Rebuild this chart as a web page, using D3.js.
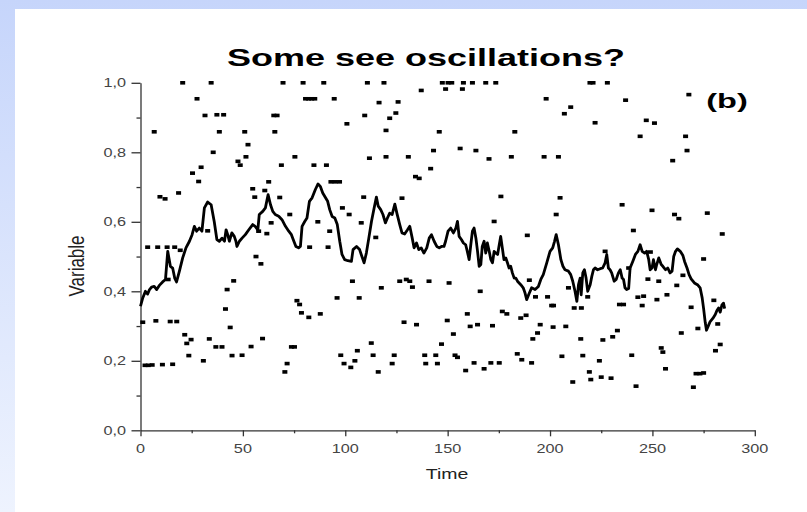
<!DOCTYPE html>
<html>
<head>
<meta charset="utf-8">
<script src="https://cdn.jsdelivr.net/npm/d3@7"></script>
<style>
body{margin:0;background:#fff}
svg{display:block}
text{font-family:"Liberation Sans",Arial,sans-serif}
</style>
</head>
<body>
<script>
// averaged curve
var lineTime = [0,1.1,2.4,3.5,4.4,5.4,6.7,7.9,9.2,10.8,12.2,13.3,14.6,15.7,16.7,17.6,19.0,20.6,22.2,23.9,25.2,26.3,27.4,28.7,30.0,31.2,32.8,34.5,36.0,37.3,38.5,39.8,41.0,41.8,42.6,43.4,44.6,45.8,46.6,47.1,48.3,49.6,51.2,52.9,54.8,56.0,57.3,58.0,59.7,61.0,62.3,63.5,64.6,65.8,67.5,69.1,70.8,72.4,73.7,74.9,75.9,77.2,78.1,78.9,80.2,81.3,82.5,83.8,85.4,86.7,87.8,89.0,90.3,91.4,92.4,93.6,94.9,96.1,97.3,98.4,99.7,101.3,103.0,103.8,105.5,107.0,107.8,109.2,110.3,111.5,112.8,114.1,115.2,116.1,117.3,118.4,119.6,120.6,121.7,122.9,124.2,125.2,126.6,127.7,129.0,130.4,131.5,132.7,133.6,134.8,135.9,137.1,138.4,139.8,141.0,142.1,143.4,144.7,145.9,147.0,148.2,149.0,150.2,151.5,152.8,154.0,154.8,155.6,156.7,157.7,158.8,159.6,160.5,161.3,162.1,162.9,163.8,164.6,165.4,166.2,166.9,167.8,168.6,169.4,170.3,171.1,171.9,172.7,173.5,174.4,175.2,175.9,176.7,177.5,178.4,179.2,180.0,180.8,181.6,182.5,183.3,184.1,185.7,186.9,187.8,188.6,189.9,191.0,192.7,194.3,195.5,196.7,198.4,200.0,201.3,202.2,203.0,204.1,205.3,206.3,207.3,209.0,210.1,211.1,212.2,213.1,213.9,214.7,215.2,216.0,216.8,217.6,218.4,219.6,220.4,221.2,222.0,223.2,224.5,225.7,226.9,227.7,228.5,229.3,230.1,231.3,232.3,233.4,234.3,235.2,235.9,236.6,237.4,238.4,239.1,240.4,241.7,242.9,244.0,245.0,246.2,247.2,248.2,248.9,249.8,250.5,251.5,252.1,253.1,254.3,255.1,256.4,257.5,258.6,259.6,260.4,261.3,262.2,263.6,264.9,265.7,266.9,267.9,268.9,270.5,272.2,273.3,274.3,275.0,275.8,276.4,277.4,278.2,279.5,280.7,281.5,282.3,283.1,283.9,284.7,285.3];
var lineValue = [0.357,0.381,0.400,0.392,0.405,0.412,0.414,0.405,0.417,0.427,0.434,0.515,0.472,0.467,0.438,0.427,0.458,0.496,0.525,0.544,0.563,0.587,0.573,0.582,0.573,0.640,0.657,0.649,0.601,0.549,0.544,0.553,0.544,0.577,0.563,0.544,0.568,0.558,0.544,0.529,0.544,0.553,0.563,0.577,0.592,0.587,0.577,0.621,0.630,0.640,0.678,0.649,0.630,0.621,0.616,0.606,0.587,0.573,0.563,0.544,0.529,0.525,0.529,0.587,0.601,0.611,0.659,0.669,0.693,0.709,0.702,0.683,0.670,0.659,0.635,0.615,0.611,0.592,0.544,0.506,0.491,0.488,0.486,0.520,0.529,0.520,0.506,0.482,0.510,0.553,0.601,0.640,0.671,0.645,0.635,0.621,0.597,0.611,0.625,0.621,0.651,0.625,0.592,0.568,0.565,0.577,0.587,0.553,0.525,0.539,0.520,0.525,0.510,0.525,0.553,0.563,0.544,0.529,0.525,0.529,0.529,0.544,0.573,0.582,0.568,0.582,0.601,0.558,0.549,0.539,0.534,0.515,0.491,0.534,0.573,0.582,0.553,0.515,0.472,0.477,0.529,0.544,0.510,0.539,0.515,0.491,0.482,0.515,0.510,0.506,0.534,0.558,0.525,0.491,0.496,0.482,0.467,0.472,0.453,0.438,0.438,0.429,0.419,0.410,0.395,0.376,0.395,0.410,0.405,0.414,0.434,0.448,0.482,0.515,0.525,0.544,0.563,0.534,0.491,0.472,0.462,0.458,0.448,0.429,0.400,0.371,0.419,0.438,0.390,0.453,0.462,0.438,0.400,0.419,0.443,0.462,0.467,0.462,0.465,0.467,0.482,0.506,0.467,0.462,0.453,0.429,0.434,0.453,0.462,0.438,0.434,0.410,0.405,0.408,0.467,0.486,0.506,0.515,0.534,0.515,0.510,0.515,0.491,0.462,0.467,0.491,0.462,0.477,0.496,0.477,0.472,0.462,0.467,0.453,0.458,0.500,0.515,0.522,0.515,0.503,0.486,0.467,0.448,0.436,0.424,0.418,0.410,0.381,0.350,0.310,0.288,0.302,0.313,0.322,0.333,0.345,0.352,0.340,0.360,0.366,0.350];

// individual values
var dotTime = [20.6,34.5,27.6,31.5,37.3,40.6,6.7,38.5,35.5,29.6,25.4,28.4,9.5,12.0,18.6,32.8,3.5,8.4,13.0,16.7,19.4,13.5,45.5,42.3,41.5,43.8,1.1,7.5,14.5,17.7,21.6,24.7,22.6,33.6,36.8,39.8,23.6,30.7,44.7,2.2,3.8,5.7,10.7,15.7,
  69.6,79.4,89.5,80.6,82.1,83.6,85.1,65.1,66.7,50.9,65.6,52.5,51.5,47.6,48.7,75.4,68.8,84.7,90.8,62.6,54.8,55.8,60.7,68.0,72.9,63.8,86.6,57.7,61.7,82.6,91.6,56.4,58.8,76.4,77.7,78.6,82.2,87.8,59.6,54.0,49.6,73.7,75.2,71.6,70.5,
  110.8,118.9,137.1,94.6,116.5,125.8,109.5,121.7,124.7,100.8,119.9,111.8,119.9,130.8,134.3,136.1,93.0,95.0,97.2,109.0,127.7,98.6,101.9,107.8,92.4,114.9,103.5,126.6,129.8,131.5,132.8,117.6,96.0,106.8,128.7,134.8,112.7,97.8,105.9,113.6,123.9,138.8,99.4,104.7,122.9,139.3,102.7,116.1,
  147.4,150.2,152.0,157.7,162.1,168.6,173.5,149.0,157.2,145.9,182.8,143.1,156.1,163.8,170.2,181.1,141.7,176.0,172.7,140.9,150.7,165.9,176.7,178.9,185.7,159.6,149.8,164.6,161.0,171.9,152.8,147.0,144.2,153.6,154.8,184.0,145.0,162.9,171.1,175.2,158.8,167.8,186.2,
  219.5,221.0,228.0,198.1,207.0,210.1,222.0,197.1,204.1,204.9,203.0,188.9,189.9,209.0,192.9,198.8,200.8,201.7,211.8,215.3,218.4,226.9,188.3,195.2,193.9,201.5,207.7,191.6,215.0,225.8,230.6,232.9,191.0,205.8,216.0,224.1,219.2,211.1,219.9,225.0,229.8,
  236.9,267.8,247.0,251.0,244.0,266.2,266.9,259.9,235.2,249.8,260.8,262.9,276.8,284.1,240.7,275.0,249.0,238.4,247.8,253.1,261.9,264.9,257.1,252.2,242.9,245.7,245.0,233.9,235.9,268.9,280.0,272.2,264.1,281.9,280.8,283.1,254.3,255.1,239.9,256.4,271.3,273.2,275.0,242.0,270.0];
var dotValue = [1.0,1.0,0.954,0.906,0.908,0.908,0.859,0.859,0.800,0.757,0.740,0.716,0.672,0.666,0.683,0.574,0.527,0.527,0.527,0.527,0.518,0.434,0.430,0.405,0.349,0.296,0.311,0.315,0.313,0.313,0.275,0.261,0.250,0.263,0.240,0.240,0.215,0.200,0.215,0.187,0.187,0.188,0.189,0.190,
  1.0,1.0,1.0,0.954,0.954,0.954,0.954,0.906,0.906,0.859,0.859,0.822,0.787,0.774,0.763,0.787,0.763,0.763,0.763,0.715,0.695,0.671,0.690,0.670,0.621,0.597,0.600,0.573,0.566,0.527,0.527,0.500,0.479,0.373,0.362,0.338,0.325,0.335,0.264,0.241,0.216,0.240,0.240,0.192,0.168,
  1.0,1.0,0.978,0.954,0.943,0.945,0.906,0.898,0.913,0.882,0.863,0.783,0.787,0.787,0.730,0.725,0.715,0.715,0.715,0.671,0.668,0.640,0.621,0.597,0.573,0.555,0.429,0.429,0.434,0.429,0.412,0.410,0.381,0.381,0.311,0.304,0.251,0.216,0.229,0.216,0.216,0.216,0.192,0.200,0.192,0.192,0.181,0.168,
  1.0,1.0,1.0,1.0,1.0,1.0,1.0,0.982,0.982,0.859,0.859,0.805,0.811,0.805,0.781,0.787,0.753,0.673,0.601,0.429,0.424,0.400,0.342,0.335,0.323,0.335,0.316,0.304,0.299,0.301,0.277,0.248,0.216,0.216,0.210,0.220,0.192,0.194,0.194,0.194,0.172,0.177,0.203,
  1.0,1.0,1.0,0.954,0.911,0.930,0.885,0.787,0.787,0.669,0.621,0.561,0.432,0.410,0.384,0.384,0.359,0.359,0.352,0.352,0.384,0.515,0.331,0.304,0.280,0.297,0.299,0.263,0.263,0.260,0.269,0.287,0.194,0.213,0.215,0.200,0.168,0.139,0.146,0.153,0.150,
  0.950,0.966,0.892,0.884,0.846,0.846,0.805,0.776,0.649,0.633,0.621,0.609,0.625,0.565,0.575,0.493,0.513,0.467,0.435,0.429,0.417,0.446,0.390,0.376,0.383,0.386,0.359,0.362,0.362,0.354,0.374,0.293,0.280,0.306,0.229,0.247,0.237,0.225,0.216,0.177,0.163,0.163,0.165,0.127,0.124];

var xTicks = [0,50,100,150,200,250,300];
var xMinor = [25,75,125,175,225,275];
var yTicks = [0,0.2,0.4,0.6,0.8,1.0];
var yMinor = [0.1,0.3,0.5,0.7,0.9];

var W = 807, H = 512;
var svg = d3.select("body").append("svg").attr("width", W).attr("height", H);

// slide background
var grad = svg.append("defs").append("linearGradient")
    .attr("id", "bg").attr("x1", 0).attr("y1", 0).attr("x2", 0).attr("y2", 1);
grad.append("stop").attr("offset", "0%").attr("stop-color", "#c6d5fb");
grad.append("stop").attr("offset", "100%").attr("stop-color", "#eef3fe");
svg.append("rect").attr("width", W).attr("height", H).attr("fill", "url(#bg)");
svg.append("rect").attr("x", 15).attr("y", 9).attr("width", W - 15).attr("height", H - 9).attr("fill", "#fff");

var x = d3.scaleLinear().domain([0, 300]).range([140.5, 754.8]);
var y = d3.scaleLinear().domain([0, 1]).range([430.3, 82.8]);
var comma = d3.formatLocale({decimal: ",", thousands: ".", grouping: [3], currency: ["", ""]}).format(".1f");

var axisColor = "#333";

function styleAxis(sel) {
  sel.selectAll("path, line").attr("stroke", axisColor).attr("stroke-width", 1.3);
  sel.selectAll("text").remove();
}

svg.append("g").attr("transform", "translate(0,430.3)")
  .call(d3.axisBottom(x).tickValues(xTicks).tickSizeInner(6).tickSizeOuter(0))
  .call(styleAxis);
svg.append("g").attr("transform", "translate(0,430.3)")
  .call(d3.axisBottom(x).tickValues(xMinor).tickSize(3))
  .call(styleAxis).select(".domain").remove();
svg.append("g").attr("transform", "translate(140.5,0)")
  .call(d3.axisLeft(y).tickValues(yTicks).tickSizeInner(9).tickSizeOuter(0))
  .call(styleAxis);
svg.append("g").attr("transform", "translate(140.5,0)")
  .call(d3.axisLeft(y).tickValues(yMinor).tickSize(4))
  .call(styleAxis).select(".domain").remove();

// stretched text helper (figure was widened in the slide)
function label(txt, px, py, size, sx, anchor, weight, rot) {
  return svg.append("text")
    .attr("transform", "translate(" + px + "," + py + ") scale(" + sx + ",1)" + (rot ? " rotate(" + rot + ")" : ""))
    .attr("text-anchor", anchor)
    .attr("font-size", size)
    .attr("font-weight", weight || "normal")
    .attr("fill", "#222")
    .text(txt);
}

xTicks.forEach(function(t) { label(t, x(t), 453, 12.5, 1.3, "middle").attr("fill", "#444"); });
yTicks.forEach(function(v) { label(comma(v), 126, y(v) + 4.5, 12.5, 1.3, "end").attr("fill", "#444"); });

label("Time", 447, 479, 15, 1.3, "middle");
label("Variable", 84, 266, 17, 1.3, "middle", "normal", -90);
label("Some see oscillations?", 426, 66, 24, 1.5, "middle", "bold").attr("fill", "#000");
label("(b)", 727, 108, 21, 1.55, "middle", "bold").attr("fill", "#000");

// scatter of single values
var dots = dotTime.map(function(t, i) { return {t: t, v: dotValue[i]}; });
svg.append("g").selectAll("rect").data(dots).enter().append("rect")
  .attr("x", function(d) { return x(d.t) - 2.5; })
  .attr("y", function(d) { return y(d.v) - 1.8; })
  .attr("width", 5).attr("height", 3.6)
  .attr("fill", "#000");

// curve
var pts = lineTime.map(function(t, i) { return [t, lineValue[i]]; });
svg.append("path").datum(pts)
  .attr("d", d3.line().x(function(d) { return x(d[0]); }).y(function(d) { return y(d[1]); }))
  .attr("fill", "none").attr("stroke", "#000").attr("stroke-width", 2.8)
  .attr("stroke-linejoin", "round");
</script>
</body>
</html>
